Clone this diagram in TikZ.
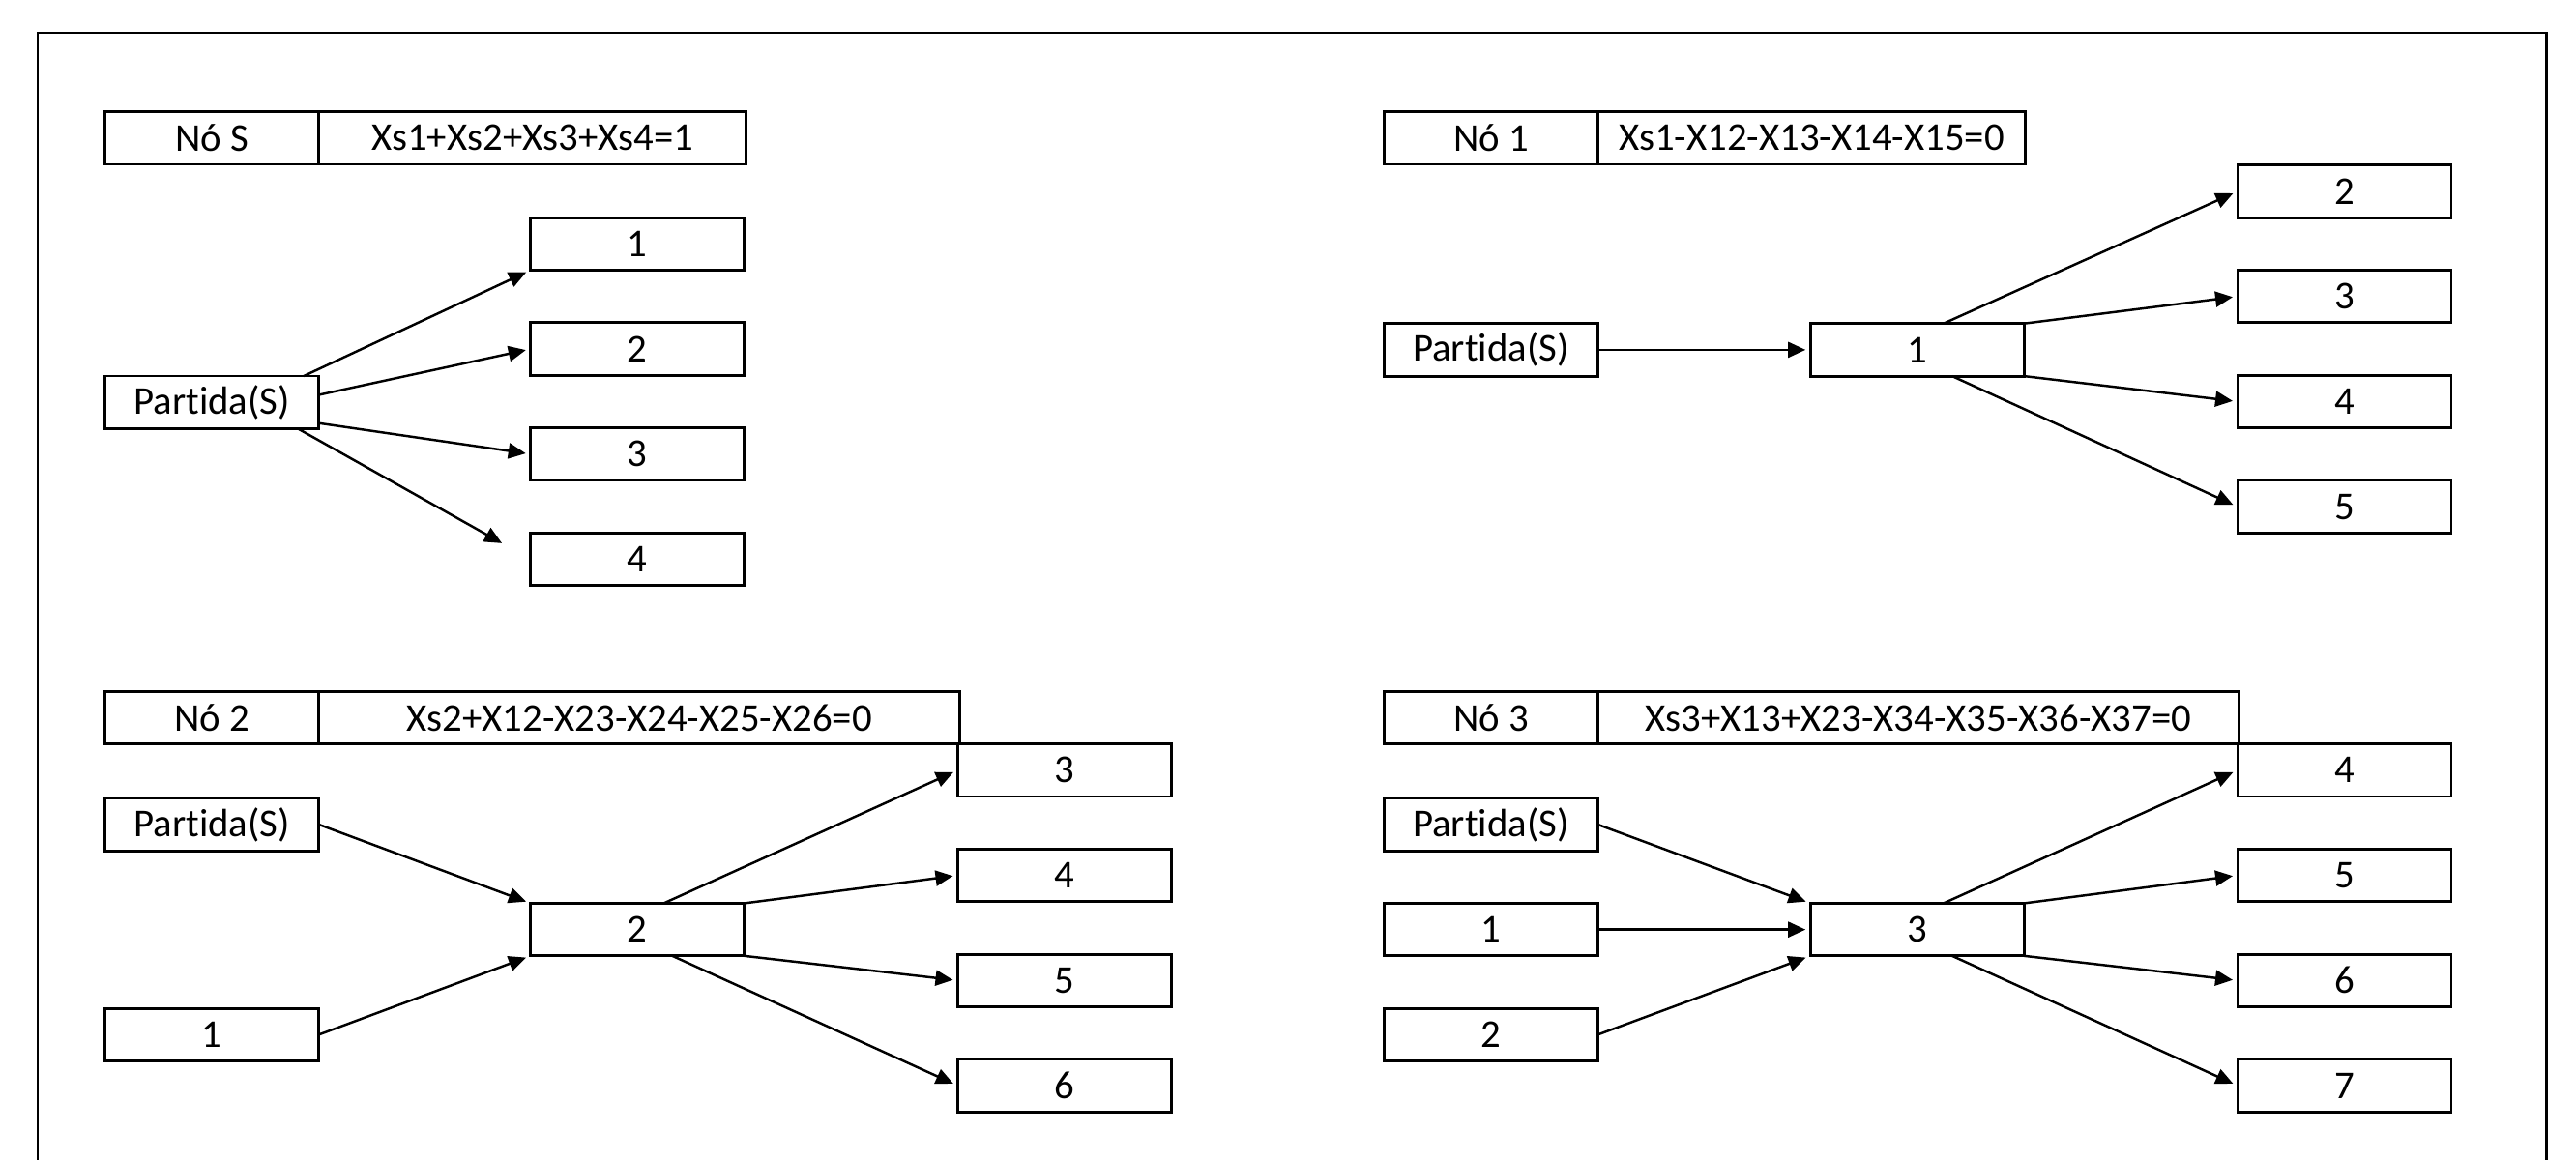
\documentclass[tikz,border=0pt]{standalone}
\usepackage{fontspec}
\setmainfont{Carlito}[Ligatures=NoCommon]
\usetikzlibrary{arrows.meta,positioning}
\tikzset{
 cell/.style={draw, rectangle, line width=0.8pt, minimum width=2.21cm, minimum height=0.544cm, inner sep=0pt, outer sep=0pt, font=\fontsize{11.6}{13}\selectfont},
 flow/.style={-{Triangle[length=1.8mm,width=1.6mm]}, line width=0.7pt, shorten >=0.05cm}
}
\begin{document}
\begin{tikzpicture}[x=0.1699mm, y=-0.1699mm]
\useasboundingbox (0,0) rectangle (1568,706);
\draw[line width=0.7pt] (23,706) |- (1550,20) -- (1550,706);

% Nó S
\node[cell] (hS) at (129,84) {Nó S};
\node[cell, minimum width=4.42cm, right=0pt of hS] (eS) {Xs1+Xs2+Xs3+Xs4=1};
\node[cell] (pS) at (129,245) {Partida(S)};
\node[cell] (s1) at (388,148.5) {1};
\node[cell] (s2) at (388,212.5) {2};
\node[cell] (s3) at (388,276.5) {3};
\node[cell] (s4) at (388,340.5) {4};

% Nó 1
\node[cell] (h1) at (907.5,84) {Nó 1};
\node[cell, minimum width=4.42cm, right=0pt of h1] (e1) {Xs1-X12-X13-X14-X15=0};
\node[cell] (p1) at (907.5,213) {Partida(S)};
\node[cell] (m1) at (1167,213) {1};
\node[cell] (t2) at (1427,116.5) {2};
\node[cell] (t3) at (1427,180.5) {3};
\node[cell] (t4) at (1427,244.5) {4};
\node[cell] (t5) at (1427,308.5) {5};

% Nó 2
\node[cell] (h2) at (129,437) {Nó 2};
\node[cell, minimum width=6.63cm, right=0pt of h2] (e2) {Xs2+X12-X23-X24-X25-X26=0};
\node[cell] (p2) at (129,502) {Partida(S)};
\node[cell] (u1) at (129,630) {1};
\node[cell] (m2) at (388,566) {2};
\node[cell] (v3) at (648,469) {3};
\node[cell] (v4) at (648,533) {4};
\node[cell] (v5) at (648,597) {5};
\node[cell] (v6) at (648,661) {6};

% Nó 3
\node[cell] (h3) at (907.5,437) {Nó 3};
\node[cell, minimum width=6.63cm, right=0pt of h3] (e3) {Xs3+X13+X23-X34-X35-X36-X37=0};
\node[cell] (p3) at (907.5,502) {Partida(S)};
\node[cell] (w1) at (907.5,566) {1};
\node[cell] (w2) at (907.5,630) {2};
\node[cell] (m3) at (1167,566) {3};
\node[cell] (z4) at (1427,469) {4};
\node[cell] (z5) at (1427,533) {5};
\node[cell] (z6) at (1427,597) {6};
\node[cell] (z7) at (1427,661) {7};

\foreach \i/\j in {pS.16/s1.south west, pS.4/s2.west, pS.-11/s3.west,
 p1.east/m1.west, m1.45/t2.west, m1.north east/t3.west, m1.south east/t4.west, m1.-37/t5.west,
 p2.east/m2.north west, u1.east/m2.south west, m2.45/v3.west, m2.north east/v4.west, m2.south east/v5.west, m2.-37/v6.west,
 p3.east/m3.north west, w1.east/m3.west, w2.east/m3.south west, m3.45/z4.west, m3.north east/z5.west, m3.south east/z6.west, m3.-37/z7.west}
\draw[flow] (\i) -- (\j);
\draw[flow, shorten >=0.34cm] (pS.-17) -- (s4.west);

\end{tikzpicture}
\end{document}
